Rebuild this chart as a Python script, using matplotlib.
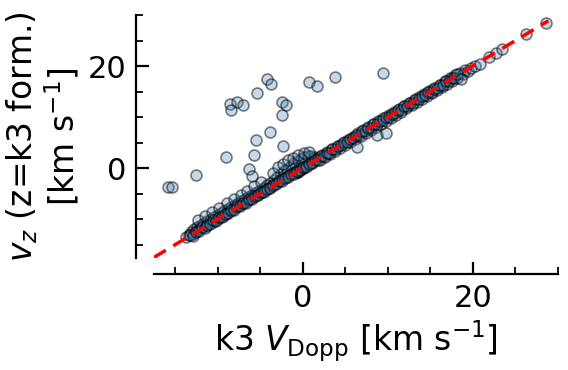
import numpy as np
import matplotlib
matplotlib.use("Agg")
import matplotlib.pyplot as plt
from matplotlib.ticker import MultipleLocator

# points that follow the one-to-one relation
band_x = [-13.7, -13.4, -13.1, -12.9, -12.8, -12.6, -12.4, -12.2, -12.0, -11.8,
          -11.6, -11.4, -11.2, -11.0, -10.8, -10.6, -10.4, -10.2, -10.0, -9.8,
          -9.6, -9.4, -9.2, -9.0, -8.8, -8.6, -8.4, -8.2, -8.0, -7.8,
          -7.6, -7.4, -7.2, -7.0, -6.8, -6.6, -6.4, -6.2, -6.0, -5.8,
          -5.6, -5.4, -5.2, -5.0,
          -12.3, -11.5, -10.7, -9.9, -8.9, -8.1, -7.3, -6.5, -5.7, -4.9,
          -4.8, -4.6, -4.4, -4.2, -4.0, -3.8, -3.6, -3.4, -3.2, -3.0,
          -2.8, -2.6, -2.4, -2.2, -2.0, -1.8, -1.6, -1.4, -1.2, -1.0,
          -0.8, -0.6, -0.4, -0.2, 0.0, 0.2, 0.4, 0.6, 0.8, 1.0,
          1.2, 1.4, 1.6, 1.8,
          -3.5, -2.9, -2.3, -1.7, -1.1, -0.5, 0.1, 0.7, -0.3, -0.1,
          -0.7, -0.7, -0.7, -0.6, -0.8,
          2.0, 2.3, 2.6, 2.9, 3.2, 3.5, 3.8, 4.1, 4.4, 4.7,
          5.0, 5.3, 5.6, 5.9, 6.2, 6.5, 6.8, 7.1, 7.4, 7.7,
          8.0, 8.3, 8.6, 8.9, 9.2, 9.5, 9.8, 10.1, 10.4, 10.7,
          11.0, 11.3, 11.6, 11.9, 12.2, 12.5, 12.8, 13.1, 13.4, 13.7,
          14.0, 14.3, 14.6, 14.9, 15.2, 15.5, 15.8, 16.1, 16.4, 16.7,
          17.0, 17.3, 17.6, 17.9, 18.2, 18.5, 18.8, 19.1, 19.4, 19.8,
          20.3, 20.9, 21.9, 22.7, 23.4, 26.3, 28.6]
band_y = [-13.5, -13.2, -12.6, -12.9, -11.9, -12.3, -11.5, -12.0, -11.2, -11.6,
          -10.7, -11.3, -10.4, -10.8, -9.9, -10.5, -9.6, -10.1, -9.2, -9.7,
          -8.8, -9.3, -8.4, -8.9, -8.1, -8.5, -7.6, -8.1, -7.3, -7.7,
          -6.8, -7.3, -6.5, -6.9, -6.0, -6.5, -5.7, -6.1, -5.3, -5.7,
          -4.9, -5.3, -4.5, -4.9,
          -10.2, -9.4, -8.6, -7.8, -6.9, -6.1, -5.2, -4.4, -3.5, -2.8,
          -4.6, -3.9, -4.3, -3.4, -3.9, -2.9, -3.5, -2.3, -3.0, -1.8,
          -2.6, -1.2, -2.2, -0.6, -1.8, -0.1, -1.4, 0.5, -1.0, 1.0,
          -0.7, 1.4, -0.3, 1.8, 0.1, 2.1, 0.5, 2.3, 0.9, 2.4,
          1.3, 2.2, 1.7, 2.0,
          -1.0, 0.2, 0.8, 1.5, 2.0, 2.6, 2.9, 3.1, 0.0, -0.2,
          -0.7, -0.7, -0.6, -0.7, -0.8,
          1.6, 2.6, 2.2, 3.2, 2.8, 3.8, 3.4, 4.4, 3.9, 5.0,
          4.6, 5.6, 5.2, 6.2, 5.7, 6.8, 6.3, 7.4, 6.9, 8.0,
          7.5, 8.6, 8.1, 9.2, 8.7, 9.8, 9.3, 10.4, 9.9, 11.0,
          10.5, 11.6, 11.1, 12.2, 11.7, 12.8, 12.3, 13.4, 12.9, 14.0,
          13.5, 14.6, 14.1, 15.2, 14.7, 15.8, 15.3, 16.4, 15.9, 17.0,
          16.5, 17.6, 17.1, 18.2, 17.7, 18.7, 18.4, 19.2, 19.0, 19.7,
          20.1, 20.5, 21.8, 22.5, 23.3, 26.3, 28.5]

# more points sitting right on the line (the dark core of the band)
core_x = [-13.3, -12.95, -12.6, -12.25, -11.9, -11.55, -11.2, -10.85, -10.5, -10.15,
          -9.8, -9.45, -9.1, -8.75, -8.4, -8.05, -7.7, -7.35, -7.0, -6.65,
          -6.3, -5.95, -5.6, -5.25, -4.9, -4.55, -4.2, -3.85, -3.5, -3.15,
          -2.8, -2.45, -2.1, -1.75, -1.4, -1.05, -0.7, -0.35, 0.0, 0.35,
          0.7, 1.05, 1.4, 1.75, 2.1, 2.45, 2.8, 3.15, 3.5, 3.85,
          4.2, 4.55, 4.9, 5.25, 5.6, 5.95, 6.3, 6.65, 7.0, 7.35,
          7.7, 8.05, 8.4, 8.75, 9.1, 9.45, 9.8, 10.15, 10.5, 10.85,
          11.2, 11.55, 11.9, 12.25, 12.6, 12.95, 13.3, 13.65, 14.0, 14.35,
          14.7, 15.05, 15.4, 15.75, 16.1, 16.45, 16.8, 17.15, 17.5, 17.85,
          18.2]
core_y = [-13.1, -13.25, -12.5, -12.35, -11.6, -11.75, -11.2, -10.95, -10.2, -10.3,
          -9.6, -9.65, -8.9, -8.85, -8.2, -8.15, -7.5, -7.45, -6.8, -6.75,
          -6.1, -6.05, -5.4, -5.35, -4.7, -4.6, -4.0, -3.9, -3.3, -3.2,
          -2.6, -2.5, -1.9, -1.8, -1.2, -1.1, -0.5, -0.4, 0.2, 0.3,
          0.9, 0.95, 1.6, 1.65, 2.3, 2.35, 3.0, 3.05, 3.7, 3.75,
          4.4, 4.45, 5.1, 5.15, 5.8, 5.85, 6.5, 6.55, 7.2, 7.25,
          7.9, 7.95, 8.6, 8.65, 9.3, 9.35, 10.0, 10.05, 10.7, 10.75,
          11.4, 11.45, 12.1, 12.15, 12.8, 12.85, 13.5, 13.55, 14.2, 14.25,
          14.9, 14.95, 15.6, 15.65, 16.3, 16.35, 17.0, 17.05, 17.7, 17.75,
          18.4]

# scattered points away from the line
out_x = [-4.25, -3.74, -5.35, -8.57, -7.71, -7.0, -8.42, 0.78, 1.72, 3.81,
         9.5, -2.48, -1.97, -2.48, -3.86, -2.36, -5.5, -9.04, -5.74, -12.5,
         -15.85, -15.33, -6.3, -6.0, 8.73, 9.8, 6.4, 18.6]
out_y = [17.4, 16.5, 14.8, 12.6, 13.0, 12.4, 11.4, 16.8, 16.1, 17.9,
         18.7, 13.0, 12.35, 10.4, 7.1, 4.3, 5.5, 2.2, 2.5, -1.4,
         -3.7, -3.7, -0.25, -1.6, 6.5, 6.8, 4.2, 17.5]

x_lim = (-17.5, 30.0)
y_lim = (-17.6, 30.0)
line_end = 28.9


def plot_comparison():

    fig = plt.figure(figsize=(5.68, 3.70), dpi=100)
    ax = fig.add_axes([0.271, 0.303, 0.711, 0.656])

    x = np.array(band_x + core_x + out_x)
    y = np.array(band_y + core_y + out_y)

    ax.scatter(x, y, s=62, facecolor=(0.275, 0.51, 0.706, 0.3),
               edgecolor=(0, 0, 0, 0.5), linewidth=1.2, zorder=2)

    # one-to-one line
    ax.plot([x_lim[0], line_end], [x_lim[0], line_end], "--", color="red",
            lw=2.5, dashes=(4, 2.5), zorder=3)

    ax.set_xlim(*x_lim)
    ax.set_ylim(*y_lim)

    # spines pulled away from the data (outward is in points)
    for side in ["top", "right"]:
        ax.spines[side].set_visible(False)
    ax.spines["left"].set_position(("outward", 13))
    ax.spines["bottom"].set_position(("outward", 11.5))
    for side in ["left", "bottom"]:
        ax.spines[side].set_linewidth(1.6)

    ax.xaxis.set_major_locator(MultipleLocator(20))
    ax.xaxis.set_minor_locator(MultipleLocator(5))
    ax.yaxis.set_major_locator(MultipleLocator(20))
    ax.yaxis.set_minor_locator(MultipleLocator(5))
    ax.tick_params(which="major", direction="in", length=9, width=1.6,
                   labelsize=22, pad=7)
    ax.tick_params(which="minor", direction="in", length=5, width=1.3)

    ax.set_xlabel(r"k3 $V_{\rm Dopp}$ [km s$^{-1}$]", fontsize=23.7)
    ax.set_ylabel("$v_z$ (z=k3 form.)\n[km s$^{-1}$]", fontsize=23.7,
                  linespacing=1.1)

    fig.savefig("out.png", dpi=100)


if __name__ == "__main__":
    plot_comparison()
